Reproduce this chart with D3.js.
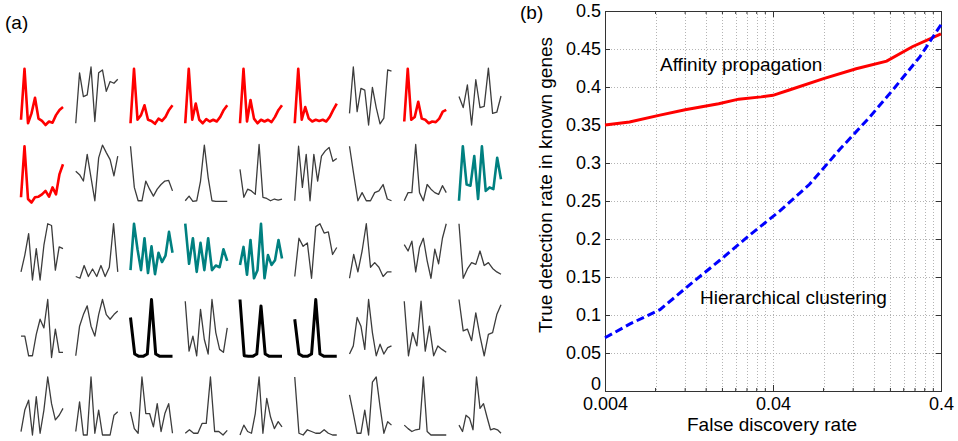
<!DOCTYPE html>
<html lang="en">
<head>
<meta charset="UTF-8">
<title>Expression profiles and true detection rate</title>
<script src="https://d3js.org/d3.v7.min.js"></script>
<style>
    body { margin: 0; background: #fff; }
    svg text { font-family: Arial, "Liberation Sans", sans-serif; fill: #000; }
</style>
</head>
<body>
<svg id="fig" width="958" height="441"></svg>
<script>
// ---- panel (a): normalised expression profiles, 5 rows x 9 columns ----
// cluster codes: A = red cluster, B = teal cluster, C = bold black cluster, o = other genes
const clustersRow1 = ["A", "o", "A", "A", "A", "A", "o", "A", "o"];
const clustersRow2 = ["A", "o", "o", "o", "o", "o", "o", "o", "B"];
const clustersRow3 = ["o", "o", "B", "B", "B", "o", "o", "o", "o"];
const clustersRow4 = ["o", "o", "C", "o", "C", "C", "o", "o", "o"];
const clustersRow5 = ["o", "o", "o", "o", "o", "o", "o", "o", "o"];

const profilesRow1 = [
    [0.09, 0.97, 0.03, 0.2, 0.47, 0.11, 0.07, 0.0, 0.06, 0.04, 0.17, 0.26, 0.31],
    [0.03, 0.9, 0.49, 0.52, 1.0, 0.06, 0.9, 0.95, 0.58, 0.75, 0.72, 0.79],
    [0.03, 0.97, 0.09, 0.17, 0.34, 0.09, 0.07, 0.02, 0.11, 0.07, 0.14, 0.26, 0.34],
    [0.03, 0.97, 0.09, 0.37, 0.09, 0.03, 0.1, 0.06, 0.09, 0.06, 0.14, 0.26, 0.34],
    [0.03, 0.97, 0.06, 0.43, 0.11, 0.03, 0.09, 0.06, 0.09, 0.05, 0.14, 0.26, 0.34],
    [0.03, 0.97, 0.09, 0.31, 0.11, 0.06, 0.09, 0.07, 0.09, 0.06, 0.14, 0.26, 0.37],
    [0.2, 1.0, 0.23, 0.63, 0.6, 0.0, 0.65, 0.3, 0.02, 0.12, 0.95, 0.93],
    [0.06, 0.97, 0.09, 0.14, 0.4, 0.11, 0.09, 0.03, 0.06, 0.05, 0.11, 0.23, 0.26],
    [0.49, 0.3, 0.69, 0.0, 0.78, 0.3, 0.32, 0.98, 0.2, 0.22, 0.5]
];
const profilesRow2 = [
    [0.09, 0.97, 0.06, 0.0, 0.09, 0.1, 0.14, 0.2, 0.1, 0.26, 0.14, 0.49, 0.66],
    [0.54, 0.48, 0.37, 0.83, 0.43, 0.03, 0.77, 0.99, 0.86, 0.74, 0.46, 0.8],
    [0.97, 0.26, 0.03, 0.03, 0.37, 0.23, 0.11, 0.23, 0.31, 0.37, 0.38, 0.2],
    [0.03, 0.11, 0.02, 0.03, 0.37, 0.99, 0.43, 0.03, 0.02, 0.02, 0.02, 0.02],
    [0.57, 0.09, 0.23, 0.2, 0.14, 1.0, 0.09, 0.07, 0.03, 0.06, 0.04, 0.06],
    [0.03, 0.97, 0.26, 0.83, 0.03, 0.83, 0.37, 0.8, 0.89, 0.95, 0.71, 0.76],
    [0.97, 0.49, 0.03, 0.17, 0.03, 0.03, 0.17, 0.2, 0.31, 0.06, 0.03],
    [0.03, 0.17, 0.17, 1.0, 0.17, 0.03, 0.31, 0.23, 0.17, 0.14, 0.29, 0.17],
    [0.03, 0.97, 0.31, 0.29, 0.8, 0.06, 0.97, 0.2, 0.26, 0.23, 0.77, 0.4]
];
const profilesRow3 = [
    [0.14, 0.43, 0.8, 0.0, 0.54, 0.0, 0.6, 0.97, 0.94, 0.17, 0.57, 0.54],
    [0.06, 0.03, 0.25, 0.06, 0.19, 0.06, 0.25, 0.06, 0.22, 0.97, 0.14],
    [0.17, 0.97, 0.53, 0.17, 0.72, 0.12, 0.58, 0.1, 0.47, 0.31, 0.42, 0.83, 0.47],
    [0.97, 0.28, 0.72, 0.14, 0.64, 0.17, 0.72, 0.17, 0.25, 0.22, 0.53, 0.33],
    [0.26, 0.57, 0.09, 0.69, 0.03, 0.17, 0.97, 0.03, 0.43, 0.26, 0.34, 0.69, 0.37],
    [0.06, 0.72, 0.58, 0.64, 0.03, 0.92, 0.97, 0.81, 0.83, 0.44, 0.56],
    [0.03, 0.44, 0.14, 0.5, 0.97, 0.22, 0.3, 0.22, 0.06, 0.14, 0.14],
    [0.61, 0.5, 0.67, 0.14, 0.56, 0.72, 0.33, 0.03, 0.53, 0.28, 0.72, 0.97],
    [0.97, 0.03, 0.19, 0.3, 0.27, 0.5, 0.25, 0.3, 0.2, 0.14, 0.1]
];
const profilesRow4 = [
    [0.37, 0.37, 0.03, 0.03, 0.4, 0.66, 0.51, 1.0, 0.0, 0.49, 0.09, 0.09],
    [0.03, 0.54, 0.74, 0.89, 0.54, 0.37, 0.74, 1.0, 0.74, 0.66, 0.74, 0.8],
    [0.69, 0.06, 0.02, 0.02, 0.06, 1.0, 0.06, 0.02, 0.02, 0.02, 0.02],
    [0.97, 0.11, 0.37, 0.03, 0.83, 0.31, 0.06, 1.0, 0.43, 0.14, 0.09, 0.51],
    [1.0, 0.03, 0.02, 0.02, 0.06, 0.89, 0.06, 0.02, 0.02, 0.02, 0.02],
    [0.66, 0.06, 0.02, 0.02, 0.06, 1.0, 0.06, 0.02, 0.02, 0.02, 0.02],
    [0.06, 0.2, 0.69, 0.54, 0.14, 1.0, 0.43, 0.03, 0.23, 0.06, 0.17, 0.2],
    [0.97, 0.03, 0.43, 0.2, 0.97, 0.11, 0.54, 0.03, 0.2, 0.14, 0.09],
    [1.0, 0.46, 0.49, 0.29, 0.77, 0.37, 0.03, 0.4, 0.43, 0.74, 0.91]
];
const profilesRow5 = [
    [0.06, 0.43, 0.6, 0.0, 0.66, 0.03, 0.43, 1.0, 0.54, 0.26, 0.34, 0.46],
    [0.06, 0.57, 0.0, 0.0, 1.0, 0.03, 0.43, 0.0, 0.0, 0.0, 0.34, 0.4],
    [0.4, 0.11, 0.03, 1.0, 0.37, 0.37, 0.14, 0.54, 0.06, 0.37, 0.54, 0.03],
    [0.03, 0.09, 0.03, 0.03, 0.2, 0.2, 1.0, 0.06, 0.06, 0.0, 0.08],
    [0.0, 0.17, 0.06, 0.03, 0.37, 1.0, 0.03, 0.63, 0.31, 0.11, 0.23, 0.14],
    [1.0, 0.03, 0.0, 0.09, 0.06, 0.03, 0.03, 0.09, 0.03, 0.0, 0.0],
    [0.69, 0.37, 0.03, 0.03, 0.43, 0.0, 0.91, 1.0, 0.49, 0.03, 0.23, 0.17],
    [0.17, 0.11, 0.06, 0.09, 0.1, 1.0, 0.06, 0.0, 0.0, 0.0, 0.0, 0.0],
    [0.17, 0.06, 0.34, 0.29, 0.09, 1.0, 0.46, 0.54, 0.31, 0.09, 0.11, 0.09, 0.03]
];

// ---- panel (b): true detection rate vs false discovery rate ----
const fdrAffinity = [0.004, 0.0056, 0.0085, 0.012, 0.019, 0.025, 0.034, 0.04, 0.05, 0.08, 0.125, 0.19, 0.27, 0.4];
const tdrAffinity = [0.35, 0.354, 0.363, 0.37, 0.378, 0.384, 0.387, 0.389, 0.396, 0.411, 0.424, 0.434, 0.453, 0.47];
const fdrHierarchical = [0.004, 0.0056, 0.0085, 0.0128, 0.0193, 0.029, 0.044, 0.066, 0.1, 0.15, 0.21, 0.3, 0.4];
const tdrHierarchical = [0.07, 0.088, 0.107, 0.14, 0.172, 0.205, 0.237, 0.272, 0.318, 0.36, 0.398, 0.44, 0.482];
const yTicks = [0, 0.05, 0.1, 0.15, 0.2, 0.25, 0.3, 0.35, 0.4, 0.45, 0.5];
const xTicks = [0.004, 0.04, 0.4];
const xTickLabels = ["0.004", "0.04", "0.4"];

const svg = d3.select("#fig");

// ---------- panel (a) ----------
const profileRows = [profilesRow1, profilesRow2, profilesRow3, profilesRow4, profilesRow5];
const clusterRows = [clustersRow1, clustersRow2, clustersRow3, clustersRow4, clustersRow5];

const colPos = d3.scaleLinear().domain([0, 8]).range([21, 459]);
const rowPos = d3.scaleLinear().domain([0, 4]).range([67, 377]);
const cellW = 42, cellH = 58;

const clusterStyle = {
    A: { color: "#ff0000", width: 2.6 },
    B: { color: "#008080", width: 2.6 },
    C: { color: "#000000", width: 3 },
    o: { color: "#3c3c3c", width: 1.3 }
};

const panelA = svg.append("g");
profileRows.forEach((profiles, r) => {
    profiles.forEach((vals, c) => {
        const sx = d3.scaleLinear().domain([0, vals.length - 1]).range([colPos(c), colPos(c) + cellW]);
        const sy = d3.scaleLinear().domain([0, 1]).range([rowPos(r) + cellH, rowPos(r)]);
        const st = clusterStyle[clusterRows[r][c]];
        panelA.append("path")
            .datum(vals)
            .attr("d", d3.line().x((d, i) => sx(i)).y(d => sy(d)))
            .attr("fill", "none")
            .attr("stroke", st.color)
            .attr("stroke-width", st.width)
            .attr("stroke-linejoin", "round");
    });
});

svg.append("text").attr("x", 5).attr("y", 29).attr("font-size", 19).text("(a)");

// ---------- panel (b) ----------
const pL = 605, pR = 941, pT = 11, pB = 391;
const x = d3.scaleLog().domain([0.004, 0.4]).range([pL, pR]);
const y = d3.scaleLinear().domain([0, 0.5]).range([pB, pT]);

// minor grid / tick positions: multiples of 0.004 and 0.04
const xMinor = [];
[0.004, 0.04].forEach(base => d3.range(2, 10).forEach(k => xMinor.push(base * k)));

const grid = svg.append("g")
    .attr("stroke", "#b4b4b4")
    .attr("stroke-width", 1)
    .attr("stroke-dasharray", "1,2");
grid.selectAll(".vx")
    .data(xMinor.concat([0.04]))
    .join("line")
    .attr("x1", d => Math.round(x(d)) + 0.5).attr("x2", d => Math.round(x(d)) + 0.5)
    .attr("y1", pT).attr("y2", pB);
grid.selectAll(".hy")
    .data(yTicks.slice(1, -1))
    .join("line")
    .attr("x1", pL).attr("x2", pR)
    .attr("y1", d => Math.round(y(d)) + 0.5).attr("y2", d => Math.round(y(d)) + 0.5);

// axes with inward ticks
const yAxis = svg.append("g")
    .attr("transform", `translate(${pL},0)`)
    .call(d3.axisLeft(y).tickValues(yTicks).tickSizeInner(-5).tickSizeOuter(0).tickPadding(4)
        .tickFormat(d => d === 0 ? "0" : String(+d.toFixed(2))));
yAxis.selectAll("text").attr("font-size", 18).attr("font-family", "Arial, 'Liberation Sans', sans-serif")
    .attr("dy", d => d === 0 ? "-0.1em" : "0.33em");

svg.append("g")
    .attr("transform", `translate(${pR},0)`)
    .call(d3.axisRight(y).tickValues(yTicks).tickSizeInner(-5).tickSizeOuter(0).tickFormat(""));

const xAxis = svg.append("g")
    .attr("transform", `translate(0,${pB})`)
    .call(d3.axisBottom(x).tickValues(xTicks).tickSizeInner(-6).tickSizeOuter(0).tickPadding(6)
        .tickFormat((d, i) => xTickLabels[i]));
xAxis.selectAll("text").attr("font-size", 18).attr("font-family", "Arial, 'Liberation Sans', sans-serif");

svg.append("g")
    .attr("transform", `translate(0,${pT})`)
    .call(d3.axisTop(x).tickValues(xTicks).tickSizeInner(-6).tickSizeOuter(0).tickFormat(""));

// minor ticks on bottom and top
const minor = svg.append("g").attr("stroke", "#333");
minor.selectAll(".mb").data(xMinor).join("line")
    .attr("x1", d => x(d)).attr("x2", d => x(d)).attr("y1", pB).attr("y2", pB - 3);
minor.selectAll(".mt").data(xMinor).join("line")
    .attr("x1", d => x(d)).attr("x2", d => x(d)).attr("y1", pT).attr("y2", pT + 3);

svg.selectAll(".domain").attr("stroke", "none");
svg.selectAll(".tick line").attr("stroke", "#333");

// box
svg.append("rect")
    .attr("x", pL + 0.5).attr("y", pT + 0.5)
    .attr("width", pR - pL).attr("height", pB - pT)
    .attr("fill", "none").attr("stroke", "#333").attr("stroke-width", 1);

// curves
const lineFn = d3.line().x(d => x(d[0])).y(d => y(d[1]));
svg.append("path")
    .datum(d3.zip(fdrAffinity, tdrAffinity))
    .attr("d", lineFn)
    .attr("fill", "none")
    .attr("stroke", "#ff0000")
    .attr("stroke-width", 3);
svg.append("path")
    .datum(d3.zip(fdrHierarchical, tdrHierarchical))
    .attr("d", lineFn)
    .attr("fill", "none")
    .attr("stroke", "#0000ff")
    .attr("stroke-width", 3)
    .attr("stroke-dasharray", "8,4");

// labels
svg.append("text").attr("x", 660).attr("y", 71).attr("font-size", 19).text("Affinity propagation");
svg.append("text").attr("x", 700).attr("y", 304).attr("font-size", 19).text("Hierarchical clustering");

svg.append("text")
    .attr("transform", "translate(552,185) rotate(-90)")
    .attr("text-anchor", "middle")
    .attr("font-size", 19)
    .text("True detection rate in known genes");
svg.append("text")
    .attr("x", 772).attr("y", 431)
    .attr("text-anchor", "middle")
    .attr("font-size", 19)
    .text("False discovery rate");

svg.append("text").attr("x", 520).attr("y", 19).attr("font-size", 19).text("(b)");
</script>
</body>
</html>
